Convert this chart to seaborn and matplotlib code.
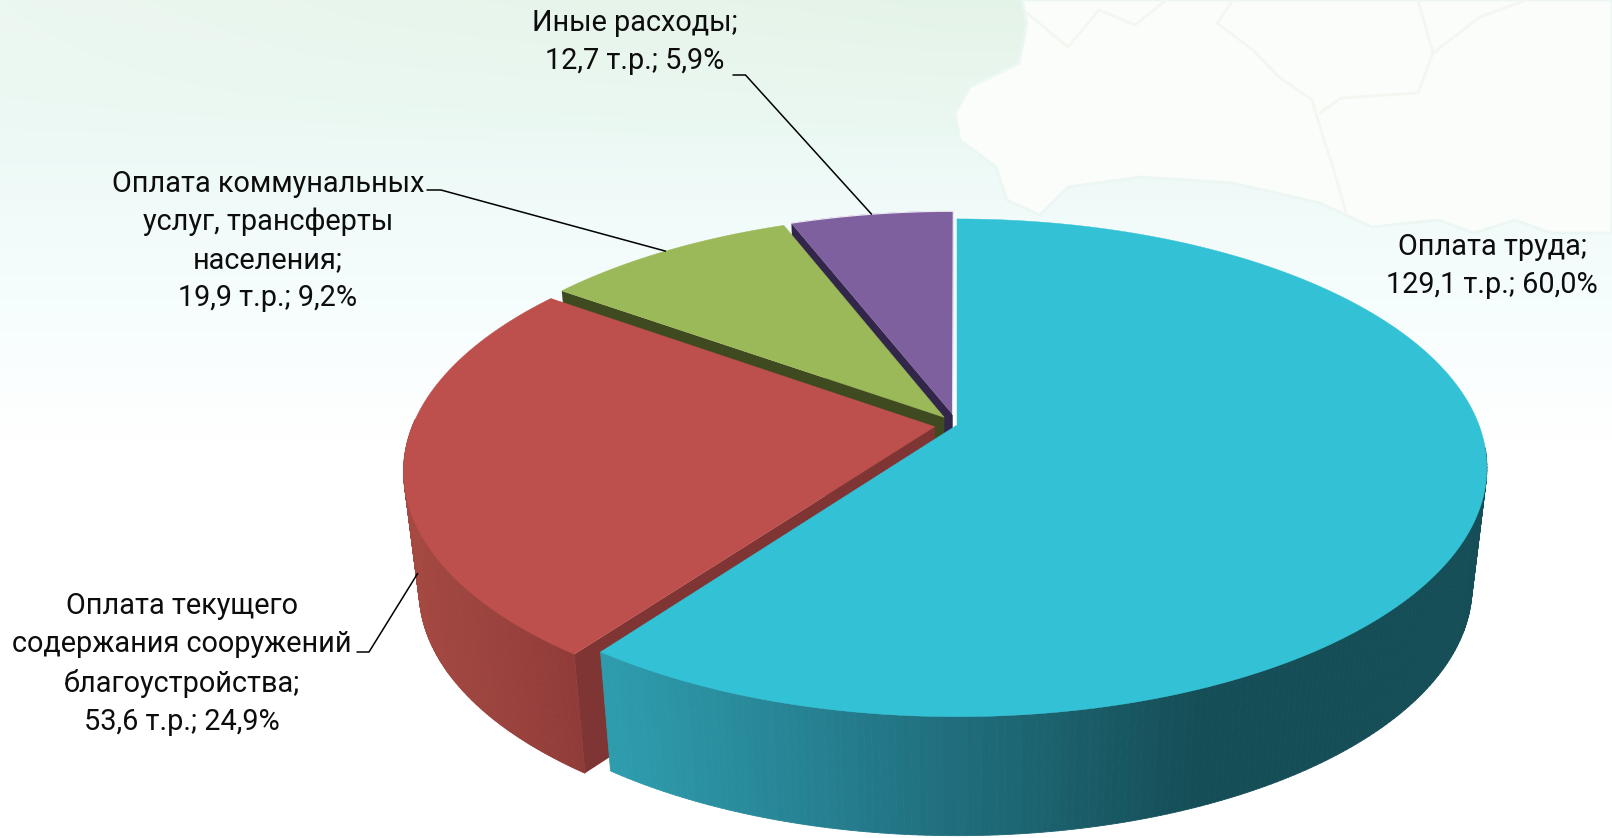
import numpy as np
import seaborn as sns
import matplotlib.pyplot as plt
from matplotlib.collections import PolyCollection
from matplotlib.colors import to_rgb

# data, going clockwise from 12 o'clock
names = ['Оплата труда', 'Оплата текущего\nсодержания сооружений\nблагоустройства',
         'Оплата коммунальных\nуслуг, трансферты\nнаселения', 'Иные расходы']
amounts = ['129,1', '53,6', '19,9', '12,7']
shares = [60.0, 24.9, 9.2, 5.9]

top_colors = ['#33c1d6', '#bd4f4c', '#9bb958', '#7f609e']
face_colors = ['#1f7f8e', '#803535', '#3f4a20', '#32274a']
wall_colors = [['#2e9cad', '#227484', '#154e57'], ['#a54942', '#8f3a38']]
explode = [0, 0.043, 0.04, 0.045]
label_pos = [(1492, 266), (182, 664), (268, 241), (635, 42)]

# perspective of the pie, in figure pixels
cx, cy = 957, 425
rx, ry, k = 522, 241.5, 0.172
wall_dy, wall_scale = 119, 0.972

sns.set_theme(style='white')
plt.rcParams['font.family'] = ['Roboto', 'DejaVu Sans']


def project(theta, radius, d, mid):
    x = radius * np.sin(theta) + d * np.sin(mid)
    y = radius * np.cos(theta) + d * np.cos(mid)
    w = 1 + k * y
    return np.column_stack([cx + rx * x / w, cy - ry * y / w])


def lower(pts):
    out = np.asarray(pts, dtype=float).copy()
    out[:, 0] = cx + wall_scale * (out[:, 0] - cx)
    out[:, 1] = out[:, 1] + wall_dy
    return out


def background(ax):
    ys = np.arange(838)
    stops = [0, 130, 200, 300, 440, 838]
    cols = np.array([to_rgb(c) for c in ['#ebf7f0', '#ecf9f4', '#f0fbf9', '#f6fdfd', '#ffffff', '#ffffff']])
    grad = np.stack([np.interp(ys, stops, cols[:, i]) for i in range(3)], axis=1)
    img = np.repeat(grad[:, None, :], 806, axis=1)
    # the top is a bit greener towards the middle of the picture
    xs = np.arange(806)
    green = 0.8 * np.outer(np.clip(1 - ys / 170, 0, 1), np.clip(xs / 470, 0, 1))
    img = img + green[:, :, None] * (np.array(to_rgb('#e3f2e5')) - np.array(to_rgb('#ebf7f0')))
    ax.imshow(img, extent=(0, 1612, 838, 0), aspect='auto', zorder=0)
    coast = [(1022, 0), (1027, 23), (1019, 63), (970, 87), (955, 113), (960, 140), (996, 167), (1007, 200),
             (1040, 215), (1068, 187), (1140, 177), (1233, 183), (1320, 203), (1372, 227), (1438, 220),
             (1474, 233), (1515, 220), (1551, 233), (1612, 233), (1612, 0)]
    ax.fill(*zip(*coast), facecolor='#fbfdfb', edgecolor='#ecf7f3', lw=2, zorder=1)
    borders = [[(1233, 0), (1217, 23), (1253, 50), (1279, 77), (1312, 100), (1320, 127), (1333, 167), (1346, 213)],
               [(1418, 0), (1433, 53), (1418, 93), (1341, 98), (1320, 113)],
               [(1433, 53), (1480, 17), (1526, 0)],
               [(1027, 13), (1068, 47), (1099, 10), (1135, 25), (1166, 0)]]
    for b in borders:
        ax.plot(*zip(*b), color='#f4f7f0', lw=2, zorder=1)


fig = plt.figure(figsize=(16.12, 8.38), dpi=100)
ax = fig.add_axes([0, 0, 1, 1])
background(ax)

edges = np.radians(np.cumsum([0] + shares) * 3.6)
mids = (edges[:-1] + edges[1:]) / 2

# back slices first, the big one goes on top of everything
for i in [3, 2, 1, 0]:
    a0, a1, mid, d = edges[i], edges[i + 1], mids[i], explode[i]
    z = 3 + (3 - i)
    theta = np.linspace(a0, a1, 300)
    arc = project(theta, 1, d, mid)
    apex = project(np.array([0.0]), 0, d, mid)

    if i < 2:
        palette = sns.blend_palette(wall_colors[i], 120)
        xr = (615, 1200) if i == 0 else (404, 585)
        # only the part of the wall that faces the viewer
        seen = (theta > np.radians(95)) & (theta < np.radians(272))
        front, low = arc[seen], lower(arc[seen])
        quads, quad_cols = [], []
        for j in range(len(front) - 1):
            quads.append([front[j], front[j + 1], low[j + 1], low[j]])
            t = np.clip((front[j, 0] - xr[0]) / (xr[1] - xr[0]), 0, 1)
            quad_cols.append(palette[int(t * 119)])
        ax.add_collection(PolyCollection(quads, facecolors=quad_cols, edgecolors=quad_cols, lw=0.6, zorder=z))

    if i > 0:
        corner = arc[:1]
        face = np.vstack([apex, corner, lower(corner), lower(apex)])
        ax.fill(face[:, 0], face[:, 1], color=face_colors[i], lw=0, zorder=z)

    top = np.vstack([apex, arc])
    ax.fill(top[:, 0], top[:, 1], color=top_colors[i], lw=0.3, zorder=z + 0.5)
    if i == 3:
        # pale rim on the outer side of the small slice
        rim = np.vstack([apex, arc[::-1]])
        ax.plot(rim[:, 0], rim[:, 1], color='#ece8f2', lw=0.9, zorder=z + 0.6)

# labels
for name, amount, share, (x, y) in zip(names, amounts, shares, label_pos):
    pct = f'{share:.1f}'.replace('.', ',')
    ax.text(x, y, f'{name};\n{amount} т.р.; {pct}%', ha='center', va='center', multialignment='center',
            fontsize=20.8, linespacing=1.45, color='#0d0d0d', zorder=10)

# leader lines, they end on the slice they belong to
purple_end = project(np.array([mids[3]]), 1, explode[3], mids[3])[0]
green_end = project(np.array([mids[2]]), 1, explode[2], mids[2])[0]
red_top = project(np.array([mids[1]]), 1, explode[1], mids[1])
red_end = red_top[0] + 0.9 * (lower(red_top)[0] - red_top[0])
leaders = [([733, 745.5, purple_end[0]], [75, 75, purple_end[1]]),
           ([427, 441, green_end[0]], [190, 190, green_end[1]]),
           ([357, 369, red_end[0]], [652, 652, red_end[1]])]
for lx, ly in leaders:
    ax.plot(lx, ly, color='black', lw=1.1, zorder=9)

ax.set_xlim(0, 1612)
ax.set_ylim(838, 0)
ax.axis('off')
plt.savefig('out.png', dpi=100)
